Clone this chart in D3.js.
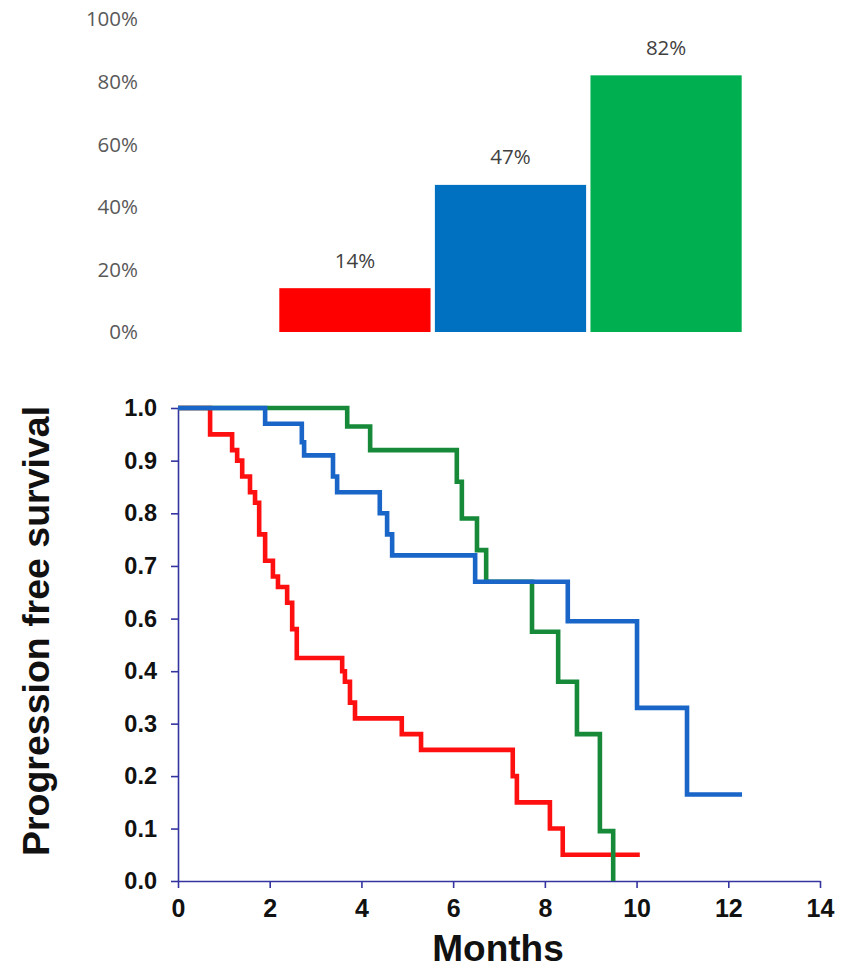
<!DOCTYPE html>
<html>
<head>
<meta charset="utf-8">
<script src="https://cdn.jsdelivr.net/npm/d3@7"></script>
<style>
  html, body { margin: 0; padding: 0; background: #fff; }
  svg { display: block; }
</style>
</head>
<body>
<script>
// ---------- Bar chart data ----------
const barCategories = ["Red group", "Blue group", "Green group"];
const barValues = [0.14, 0.47, 0.82];
const barLabels = ["14%", "47%", "82%"];
const barColors = ["#ff0000", "#0070c0", "#00b050"];
const barTicks = [0, 0.2, 0.4, 0.6, 0.8, 1.0];
const barTickLabels = ["0%", "20%", "40%", "60%", "80%", "100%"];

// ---------- Kaplan-Meier data ----------
const redTimes = [0, 0.70, 1.18, 1.29, 1.40, 1.57, 1.68, 1.77, 1.90, 2.07, 2.18, 2.38, 2.49, 2.59, 3.58, 3.64, 3.75, 3.86, 4.88, 5.30, 7.30, 7.39, 8.11, 8.39, 10.07];
const redSurv  = [1.0, 0.95, 0.92, 0.90, 0.87, 0.84, 0.82, 0.76, 0.71, 0.68, 0.66, 0.63, 0.56, 0.45, 0.40, 0.38, 0.34, 0.31, 0.28, 0.25, 0.20, 0.15, 0.10, 0.05, 0.05];
const blueTimes = [0, 1.90, 2.70, 2.75, 3.38, 3.47, 4.40, 4.56, 4.67, 6.48, 8.50, 10.01, 11.10, 12.30];
const blueSurv  = [1.0, 0.97, 0.935, 0.91, 0.87, 0.84, 0.80, 0.76, 0.72, 0.67, 0.59, 0.33, 0.165, 0.165];
const greenTimes = [0, 3.69, 4.19, 6.08, 6.19, 6.52, 6.72, 7.72, 8.29, 8.70, 9.20, 9.49];
const greenSurv  = [1.0, 0.965, 0.92, 0.86, 0.79, 0.73, 0.67, 0.55, 0.38, 0.28, 0.095, 0.0];
const kmXTicks = [0, 2, 4, 6, 8, 10, 12, 14];
const kmYTicks = [0, 0.1, 0.2, 0.3, 0.4, 0.6, 0.7, 0.8, 0.9, 1.0];
const kmYTickLabels = ["0.0", "0.1", "0.2", "0.3", "0.4", "0.6", "0.7", "0.8", "0.9", "1.0"];
const kmXTitle = "Months";
const kmYTitle = "Progression free survival";

const W = 846, H = 969;
const svg = d3.select("body").append("svg").attr("width", W).attr("height", H);

// ---------- Bar chart ----------
const bx = d3.scaleBand().domain(barCategories).range([279.3, 741.7]).paddingInner(0.028).paddingOuter(0);
const by = d3.scaleLinear().domain([0, 1]).range([332, 19]);
const barG = svg.append("g");
const barFont = "'Open Sans', 'Noto Sans', sans-serif";

barG.selectAll("text.tick").data(barTicks).join("text")
  .attr("class", "tick")
  .attr("x", 138).attr("y", d => by(d))
  .attr("dy", "0.36em")
  .attr("text-anchor", "end")
  .attr("font-family", barFont).attr("font-size", 20.5)
  .attr("fill", "#595959")
  .text((d, i) => barTickLabels[i]);

barG.selectAll("rect").data(barValues).join("rect")
  .attr("x", (d, i) => bx(barCategories[i]))
  .attr("width", bx.bandwidth())
  .attr("y", d => by(d))
  .attr("height", d => by(0) - by(d))
  .attr("fill", (d, i) => barColors[i]);

barG.selectAll("text.lbl").data(barValues).join("text")
  .attr("class", "lbl")
  .attr("x", (d, i) => bx(barCategories[i]) + bx.bandwidth() / 2)
  .attr("y", d => by(d) - 20.5)
  .attr("text-anchor", "middle")
  .attr("font-family", barFont).attr("font-size", 20.5)
  .attr("fill", "#404040")
  .text((d, i) => barLabels[i]);

// ---------- KM chart ----------
const axisColor = "#3434a0";
const kx = d3.scaleLinear().domain([0, 14]).range([178, 820]);
const ky = d3.scaleLinear().domain([0, 0.4, 0.6, 1.0]).range([881, 671.2, 618.6, 408]);
const kmG = svg.append("g");
const kmFont = "'Liberation Sans', Arial, sans-serif";

const xAxis = kmG.append("g").attr("transform", "translate(0,881)")
  .call(d3.axisBottom(kx).tickValues(kmXTicks).tickSize(7).tickSizeOuter(0).tickPadding(11).tickFormat(d3.format("d")));
const yAxis = kmG.append("g").attr("transform", "translate(178,0)")
  .call(d3.axisLeft(ky).tickValues(kmYTicks).tickSize(7).tickSizeOuter(0).tickPadding(14)
    .tickFormat((d, i) => kmYTickLabels[i]));

[xAxis, yAxis].forEach(a => {
  a.select(".domain").attr("stroke", axisColor).attr("stroke-width", 1.6);
  a.selectAll(".tick line").attr("stroke", axisColor).attr("stroke-width", 1.6);
  a.selectAll(".tick text").attr("fill", "#111").attr("font-family", kmFont)
    .attr("font-weight", "bold").attr("font-size", 23.5);
});
xAxis.selectAll(".tick text").attr("font-size", 25);

const series = [
  { t: redTimes, s: redSurv, c: "#ff1010" },
  { t: greenTimes, s: greenSurv, c: "#178a3a" },
  { t: blueTimes, s: blueSurv, c: "#1a66c8" }
];
const line = d3.line().x(d => kx(d[0])).y(d => ky(d[1])).curve(d3.curveStepAfter);
kmG.selectAll("path.km").data(series).join("path")
  .attr("class", "km")
  .attr("d", d => line(d.t.map((t, i) => [t, d.s[i]])))
  .attr("fill", "none")
  .attr("stroke", d => d.c)
  .attr("stroke-width", 4.6)
  .attr("stroke-linejoin", "miter")
  .attr("stroke-linecap", "butt");

kmG.append("text")
  .attr("x", 498).attr("y", 961)
  .attr("text-anchor", "middle")
  .attr("font-family", kmFont).attr("font-weight", "bold").attr("font-size", 37)
  .attr("fill", "#111")
  .text(kmXTitle);

kmG.append("text")
  .attr("transform", "translate(49,631) rotate(-90)")
  .attr("text-anchor", "middle")
  .attr("font-family", kmFont).attr("font-weight", "bold").attr("font-size", 37.5)
  .attr("fill", "#111")
  .text(kmYTitle);
</script>
</body>
</html>
